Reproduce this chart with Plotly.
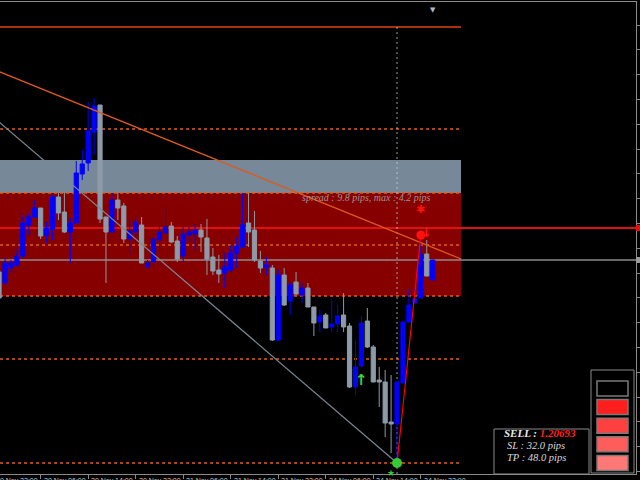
import plotly.graph_objects as go

# ---------------- data (H1 bars, price) ----------------
bars = list(range(-1, 73))
opens = [1.20640, 1.20585, 1.20660, 1.20675, 1.20720, 1.20875, 1.20915, 1.20960, 1.20825, 1.20855,
         1.21015, 1.20940, 1.20840, 1.20885, 1.21130, 1.21185, 1.21340, 1.21475, 1.20915, 1.20840,
         1.21000, 1.20970, 1.20805, 1.20840, 1.20875, 1.20665, 1.20690, 1.20800, 1.20835, 1.20870,
         1.20795, 1.20720, 1.20825, 1.20830, 1.20850, 1.20810, 1.20715, 1.20650, 1.20635, 1.20650,
         1.20735, 1.20765, 1.20885, 1.20850, 1.20695, 1.20665, 1.20660, 1.20300, 1.20625, 1.20495,
         1.20590, 1.20525, 1.20560, 1.20465, 1.20390, 1.20425, 1.20365, 1.20380, 1.20425, 1.20370,
         1.20065, 1.20170, 1.20395, 1.20265, 1.20100, 1.20090, 1.19890, 1.19880, 1.20085, 1.20390,
         1.20485, 1.20510, 1.20730, 1.20600]
highs = [1.20670, 1.20710, 1.20700, 1.20755, 1.20925, 1.20935, 1.21000, 1.20960, 1.20890, 1.21025,
         1.21035, 1.21035, 1.20910, 1.21195, 1.21250, 1.21490, 1.21510, 1.21475, 1.20915, 1.21035,
         1.21035, 1.20985, 1.20900, 1.20920, 1.20915, 1.20700, 1.20840, 1.20875, 1.20960, 1.20890,
         1.20820, 1.20865, 1.20865, 1.20880, 1.20880, 1.20905, 1.20760, 1.20725, 1.20735, 1.20775,
         1.20815, 1.21035, 1.21035, 1.20945, 1.20745, 1.20715, 1.20675, 1.20650, 1.20660, 1.20590,
         1.20640, 1.20585, 1.20585, 1.20465, 1.20450, 1.20435, 1.20505, 1.20475, 1.20535, 1.20385,
         1.20300, 1.20420, 1.20460, 1.20275, 1.20165, 1.20150, 1.20125, 1.20090, 1.20390, 1.20555,
         1.20560, 1.20835, 1.20800, 1.20700]
lows = [1.20500, 1.20575, 1.20635, 1.20665, 1.20710, 1.20825, 1.20910, 1.20805, 1.20785, 1.20800,
        1.20900, 1.20835, 1.20685, 1.20885, 1.21100, 1.21145, 1.21225, 1.20885, 1.20585, 1.20835,
        1.20900, 1.20785, 1.20730, 1.20790, 1.20685, 1.20660, 1.20665, 1.20740, 1.20835, 1.20785,
        1.20690, 1.20690, 1.20790, 1.20750, 1.20740, 1.20625, 1.20625, 1.20585, 1.20560, 1.20640,
        1.20660, 1.20760, 1.20765, 1.20690, 1.20635, 1.20625, 1.20295, 1.20295, 1.20470, 1.20425,
        1.20525, 1.20485, 1.20465, 1.20320, 1.20340, 1.20360, 1.20340, 1.20340, 1.20340, 1.20060,
        1.20025, 1.20165, 1.20260, 1.20090, 1.19965, 1.19815, 1.19735, 1.19700, 1.20085, 1.20385,
        1.20485, 1.20510, 1.20620, 1.20600]
closes = [1.20510, 1.20685, 1.20685, 1.20720, 1.20885, 1.20915, 1.20960, 1.20820, 1.20860, 1.21015,
          1.20935, 1.20840, 1.20885, 1.21135, 1.21180, 1.21345, 1.21470, 1.20905, 1.20840, 1.21000,
          1.20960, 1.20805, 1.20845, 1.20890, 1.20685, 1.20685, 1.20805, 1.20840, 1.20865, 1.20790,
          1.20705, 1.20830, 1.20840, 1.20850, 1.20815, 1.20705, 1.20645, 1.20630, 1.20665, 1.20735,
          1.20770, 1.20875, 1.20840, 1.20700, 1.20660, 1.20675, 1.20300, 1.20625, 1.20475, 1.20575,
          1.20530, 1.20560, 1.20465, 1.20385, 1.20420, 1.20360, 1.20380, 1.20420, 1.20365, 1.20065,
          1.20165, 1.20385, 1.20265, 1.20090, 1.20090, 1.19885, 1.19880, 1.20090, 1.20390, 1.20475,
          1.20505, 1.20725, 1.20620, 1.20700]

x_label_bars = [-2, 6, 14, 22, 30, 38, 46, 54, 62, 70]
x_labels = ["19 Nov 22:00", "20 Nov 06:00", "20 Nov 14:00", "20 Nov 22:00", "21 Nov 06:00",
            "21 Nov 14:00", "21 Nov 22:00", "24 Nov 06:00", "24 Nov 14:00", "24 Nov 22:00"]

top_level = 1.21865
dotted_levels = [1.21355, 1.21035, 1.20775, 1.20520, 1.20205, 1.19685]
sell_line_level = 1.20860
slate_zone = [1.21035, 1.21200]
red_zone = [1.20520, 1.21035]
bid_level = closes[-1]

orange_trend_bars = [-1, 76.8]
orange_trend_prices = [1.21642, 1.20705]
gray_trend_bars = [-1, 66]
gray_trend_prices = [1.21390, 1.19685]
signal_bars = [66, 70]
signal_prices = [1.19685, 1.20825]
cursor_bar = 66
buy_arrow = (60, 1.20100)
sell_arrow = (71, 1.20840)
sell_star = (70, 1.20955)
green_star_bar = 65

spread_text = "spread : 9.8 pips, max : 4.2 pips"
sell_price_text = "1.20693"
sl_text = "SL : 32.0 pips"
tp_text = "TP : 48.0 pips"
panel_colors = ["#000000", "#ff1e1e", "#ff4040", "#ff5c5c", "#ff7878"]

# ---------------- geometry of the MT4 window ----------------
W, H = 640, 480
PLOT_R, PLOT_T, PLOT_B = 636, 2, 474
BAR0_PX, BAR_PX = 5.0, 5.94
X_RANGE = [(0 - BAR0_PX) / BAR_PX, (PLOT_R - BAR0_PX) / BAR_PX]
Y_RANGE = [1.19630, 1.21990]
SHIFT_END = (461 - BAR0_PX) / BAR_PX  # end of objects (chart shift area)


def bar_to_paper(b):
    return (BAR0_PX + BAR_PX * b) / PLOT_R


def px(x):
    return x / PLOT_R


def py(y):
    return (PLOT_B - y) / (PLOT_B - PLOT_T)


fig = go.Figure()

# trend lines (under the candles)
fig.add_trace(go.Scatter(x=orange_trend_bars, y=orange_trend_prices, mode="lines",
                         line=dict(color="#dc5a1e", width=1.3), hoverinfo="skip"))
fig.add_trace(go.Scatter(x=gray_trend_bars, y=gray_trend_prices, mode="lines",
                         line=dict(color="#7d8894", width=1.2), hoverinfo="skip"))

fig.add_trace(go.Candlestick(
    x=bars, open=opens, high=highs, low=lows, close=closes,
    increasing=dict(line=dict(color="#0000ff", width=1), fillcolor="#0000ff"),
    decreasing=dict(line=dict(color="#8d9aa7", width=1), fillcolor="#8d9aa7"),
    whiskerwidth=0, hoverinfo="skip"))

# signal line + markers
fig.add_trace(go.Scatter(x=signal_bars, y=signal_prices, mode="lines",
                         line=dict(color="#ff0000", width=1.2), hoverinfo="skip"))
fig.add_trace(go.Scatter(x=[signal_bars[0]], y=[signal_prices[0]], mode="markers",
                         marker=dict(color="#33cc33", size=10), hoverinfo="skip"))
fig.add_trace(go.Scatter(x=[signal_bars[1]], y=[signal_prices[1]], mode="markers",
                         marker=dict(color="#ff1010", size=9), hoverinfo="skip"))

shapes = []
# zones
shapes.append(dict(type="rect", xref="x", yref="y", x0=X_RANGE[0] - 1, x1=SHIFT_END,
                   y0=slate_zone[0], y1=slate_zone[1], fillcolor="#778899", line_width=0, layer="below"))
shapes.append(dict(type="rect", xref="x", yref="y", x0=X_RANGE[0] - 1, x1=SHIFT_END,
                   y0=red_zone[0], y1=red_zone[1], fillcolor="#870000", line_width=0, layer="below"))
# dotted levels
for lv in dotted_levels:
    shapes.append(dict(type="line", xref="x", yref="y", x0=X_RANGE[0] - 1, x1=SHIFT_END, y0=lv, y1=lv,
                       line=dict(color="#e0601c", width=1.3, dash="3px,3px"), layer="below"))
# top solid level
shapes.append(dict(type="line", xref="x", yref="y", x0=X_RANGE[0] - 1, x1=SHIFT_END, y0=top_level, y1=top_level,
                   line=dict(color="#a8320f", width=2), layer="below"))
# sell line & bid line (full width)
shapes.append(dict(type="line", xref="x", yref="y", x0=X_RANGE[0] - 1, x1=X_RANGE[1] + 1,
                   y0=sell_line_level, y1=sell_line_level, line=dict(color="#e01010", width=2), layer="below"))
shapes.append(dict(type="line", xref="x", yref="y", x0=X_RANGE[0] - 1, x1=X_RANGE[1] + 1,
                   y0=bid_level, y1=bid_level, line=dict(color="#8c8c8c", width=1.3), layer="below"))
# cursor vertical dotted line
shapes.append(dict(type="line", xref="x", yref="y", x0=cursor_bar, x1=cursor_bar, y0=Y_RANGE[0], y1=top_level,
                   line=dict(color="rgba(200,210,225,0.5)", width=1.5, dash="2px,3px"), layer="below"))
# price markers on right scale
for lv, col in [(sell_line_level, "#e01010"), (bid_level, "#9a9a9a")]:
    shapes.append(dict(type="rect", xref="paper", yref="y", x0=1.0, x1=1.01, y0=lv - 0.00015, y1=lv + 0.00015,
                       fillcolor=col, line_width=0))

# info box
shapes.append(dict(type="rect", xref="paper", yref="paper", x0=px(494), x1=px(589), y0=py(474), y1=py(429),
                   fillcolor="#000000", line=dict(color="#8a8a8a", width=1)))
shapes.append(dict(type="rect", xref="paper", yref="paper", x0=px(591), x1=px(634), y0=py(473), y1=py(370),
                   fillcolor="#000000", line=dict(color="#8a8a8a", width=1)))
for i, c in enumerate(panel_colors):
    top = 381 + i * 18.6
    shapes.append(dict(type="rect", xref="paper", yref="paper", x0=px(597), x1=px(628),
                       y0=py(top + 15), y1=py(top), fillcolor=c, line=dict(color="#7a7a7a", width=1.5)))

annotations = []
for b, t in zip(x_label_bars, x_labels):
    annotations.append(dict(xref="paper", yref="paper", x=bar_to_paper(b), y=py(PLOT_B + 1),
                            xanchor="left", yanchor="top", text=t, showarrow=False, xshift=1,
                            font=dict(family="Liberation Sans", size=7, color="#c8c8c8")))
annotations.append(dict(xref="x", yref="y", x=sell_star[0] + 2, y=1.21015, xanchor="right", yanchor="middle",
                        text="<i>" + spread_text + "</i>", showarrow=False,
                        font=dict(family="Liberation Serif", size=10, color="#a09494")))
annotations.append(dict(xref="x", yref="y", x=sell_star[0], y=sell_star[1], text="✱", showarrow=False,
                        font=dict(family="DejaVu Sans", size=11, color="#ff1010")))
annotations.append(dict(xref="x", yref="y", x=buy_arrow[0], y=buy_arrow[1], text="<b>↑</b>", showarrow=False,
                        font=dict(family="DejaVu Sans", size=15, color="#33dd33")))
annotations.append(dict(xref="x", yref="y", x=sell_arrow[0], y=sell_arrow[1], text="<b>↓</b>", showarrow=False,
                        font=dict(family="DejaVu Sans", size=13, color="#ff1010")))
annotations.append(dict(xref="paper", yref="paper", x=bar_to_paper(green_star_bar), y=py(PLOT_B - 1),
                        text="★", showarrow=False, yanchor="middle",
                        font=dict(family="DejaVu Sans", size=9, color="#33cc33")))
annotations.append(dict(xref="paper", yref="paper", x=px(438), y=py(4), text="▼", showarrow=False,
                        font=dict(family="DejaVu Sans", size=7, color="#a8b8c8")))
annotations.append(dict(xref="paper", yref="paper", x=px(502), y=py(441), xanchor="left",
                        text="<b><i>SELL : </i></b><b><i><span style='color:#ff2020'>" + sell_price_text + "</span></i></b>",
                        showarrow=False, font=dict(family="Liberation Serif", size=11, color="#e8e8e8")))
annotations.append(dict(xref="paper", yref="paper", x=px(505), y=py(453), xanchor="left",
                        text="<i>" + sl_text + "</i>", showarrow=False,
                        font=dict(family="Liberation Serif", size=10.5, color="#d8d8d8")))
annotations.append(dict(xref="paper", yref="paper", x=px(505), y=py(465), xanchor="left",
                        text="<i>" + tp_text + "</i>", showarrow=False,
                        font=dict(family="Liberation Serif", size=10.5, color="#d8d8d8")))

fig.update_layout(
    width=W, height=H, margin=dict(l=0, r=W - PLOT_R, t=PLOT_T, b=H - PLOT_B),
    paper_bgcolor="#000000", plot_bgcolor="#000000", showlegend=False,
    shapes=shapes, annotations=annotations, hovermode=False,
    boxgap=0.3, boxgroupgap=0,
    xaxis=dict(range=X_RANGE, showgrid=False, zeroline=False, showline=True, linecolor="#8a8a8a",
               linewidth=1, mirror=True, ticks="outside", ticklen=4, tickcolor="#8a8a8a",
               tickvals=x_label_bars, showticklabels=False, rangeslider=dict(visible=False),
               fixedrange=True),
    yaxis=dict(range=Y_RANGE, side="right", showgrid=False, zeroline=False, showline=True,
               linecolor="#8a8a8a", linewidth=1, mirror=True, ticks="outside", ticklen=3,
               tickcolor="#8a8a8a", tick0=1.21875, dtick=0.00124, showticklabels=False,
               fixedrange=True),
)

fig.write_html("out.html", config=dict(displayModeBar=False),
               post_script="document.body.style.margin='0';document.body.style.background='#000';")
